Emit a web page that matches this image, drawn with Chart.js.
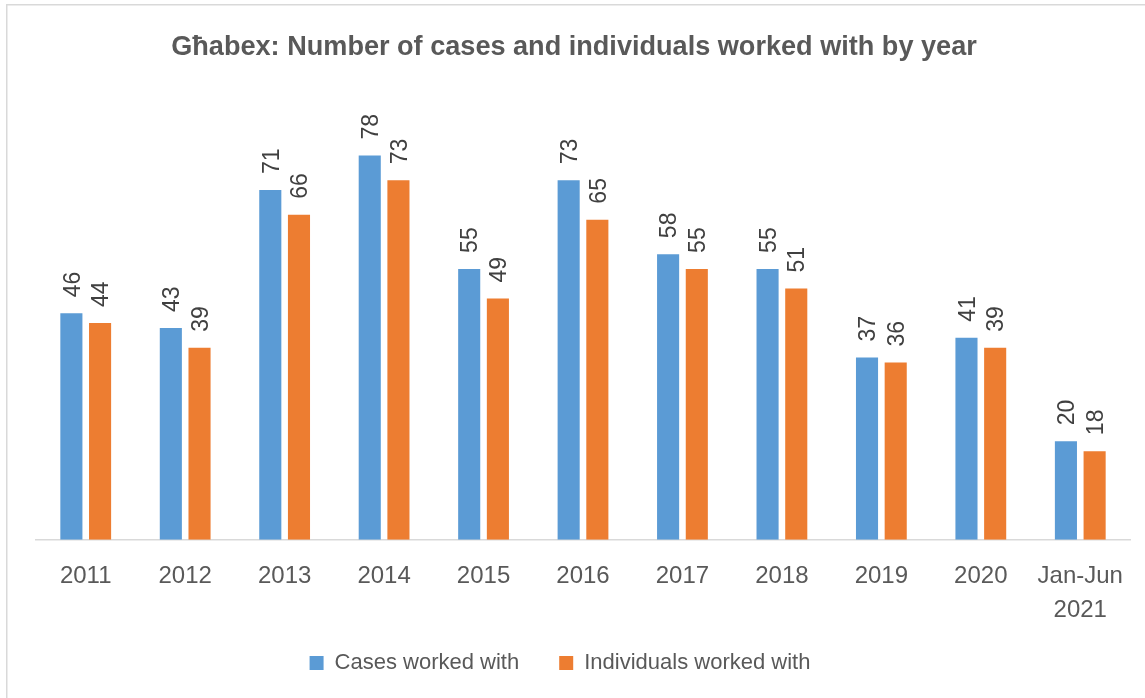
<!DOCTYPE html>
<html>
<head>
<meta charset="utf-8">
<script src="https://cdn.jsdelivr.net/npm/chart.js@4/dist/chart.umd.min.js"></script>
<style>
  html, body { margin: 0; padding: 0; background: #ffffff; }
  #wrap { position: relative; width: 1145px; height: 698px; }
  canvas { display: block; }
</style>
</head>
<body>
<div id="wrap"><canvas id="c" width="1145" height="698"></canvas></div>
<script>
const categories = ['2011', '2012', '2013', '2014', '2015', '2016', '2017', '2018', '2019', '2020', ['Jan-Jun', '2021']];
const casesWorkedWith = [46, 43, 71, 78, 55, 73, 58, 55, 37, 41, 20];
const individualsWorkedWith = [44, 39, 66, 73, 49, 65, 55, 51, 36, 39, 18];
const seriesNames = ['Cases worked with', 'Individuals worked with'];
const chartTitle = 'Għabex: Number of cases and individuals worked with by year';

const FONT = "'Liberation Sans', Arial, sans-serif";
const AXIS_OVERLAP = 35;

const frame = {
  id: 'frame',
  beforeDraw(chart) {
    const ctx = chart.ctx;
    ctx.save();
    ctx.fillStyle = '#ffffff';
    ctx.fillRect(0, 0, chart.width, chart.height);
    ctx.fillStyle = '#d9d9d9';
    ctx.fillRect(6, 4, 1.5, chart.height - 4);
    ctx.fillRect(6, 4, chart.width - 6, 1.5);
    ctx.restore();
  },
  afterLayout(chart) {
    // legend sits slightly left of the title centre in the reference
    if (chart.legend) {
      chart.legend.left -= 14;
      chart.legend.right -= 14;
    }
    // let the x tick labels extend into the space above the legend (no clipping)
    const x = chart.scales.x;
    x.bottom += AXIS_OVERLAP;
    x.height += AXIS_OVERLAP;
  }
};

const valueLabels = {
  id: 'valueLabels',
  afterDatasetsDraw(chart) {
    const ctx = chart.ctx;
    const size = 23;
    ctx.save();
    ctx.font = size + 'px ' + FONT;
    ctx.fillStyle = '#404040';
    ctx.textAlign = 'left';
    ctx.textBaseline = 'alphabetic';
    chart.data.datasets.forEach((ds, di) => {
      const meta = chart.getDatasetMeta(di);
      meta.data.forEach((bar, i) => {
        const v = ds.data[i];
        ctx.save();
        ctx.translate(bar.x + size * 0.716 / 2, bar.y - 16);
        ctx.rotate(-Math.PI / 2);
        ctx.fillText(String(v), 0, 0);
        ctx.restore();
      });
    });
    ctx.restore();
  }
};

new Chart(document.getElementById('c'), {
  type: 'bar',
  data: {
    labels: categories,
    datasets: [
      { label: seriesNames[0], data: casesWorkedWith, backgroundColor: '#5B9BD5', borderWidth: 0,
        categoryPercentage: 0.577, barPercentage: 0.77 },
      { label: seriesNames[1], data: individualsWorkedWith, backgroundColor: '#ED7D31', borderWidth: 0,
        categoryPercentage: 0.577, barPercentage: 0.77 }
    ]
  },
  options: {
    responsive: false,
    animation: false,
    devicePixelRatio: 1,
    layout: { padding: { top: 0, left: 18, right: 15, bottom: 14 } },
    plugins: {
      title: {
        display: true,
        text: chartTitle,
        color: '#595959',
        font: { family: FONT, size: 27.1, weight: 'bold', lineHeight: 1.2 },
        padding: { top: 31, bottom: 33 }
      },
      legend: {
        display: true,
        position: 'bottom',
        labels: {
          color: '#595959',
          font: { family: FONT, size: 22 },
          boxWidth: 14,
          boxHeight: 14,
          padding: 40
        }
      },
      tooltip: { enabled: false }
    },
    scales: {
      x: {
        grid: { display: false, drawTicks: false },
        border: { display: true, color: '#d9d9d9', width: 1.5 },
        ticks: {
          color: '#595959',
          font: { family: FONT, size: 24, lineHeight: 1.4 },
          padding: 20,
          maxRotation: 0,
          autoSkip: false
        },
        afterFit(scale) { scale.height -= AXIS_OVERLAP; }
      },
      y: {
        display: true,
        min: 0,
        max: 90,
        grid: { display: false, drawTicks: false },
        border: { display: false },
        ticks: { display: false },
        afterFit(scale) { scale.width = 18; }
      }
    }
  },
  plugins: [frame, valueLabels]
});
</script>
</body>
</html>
